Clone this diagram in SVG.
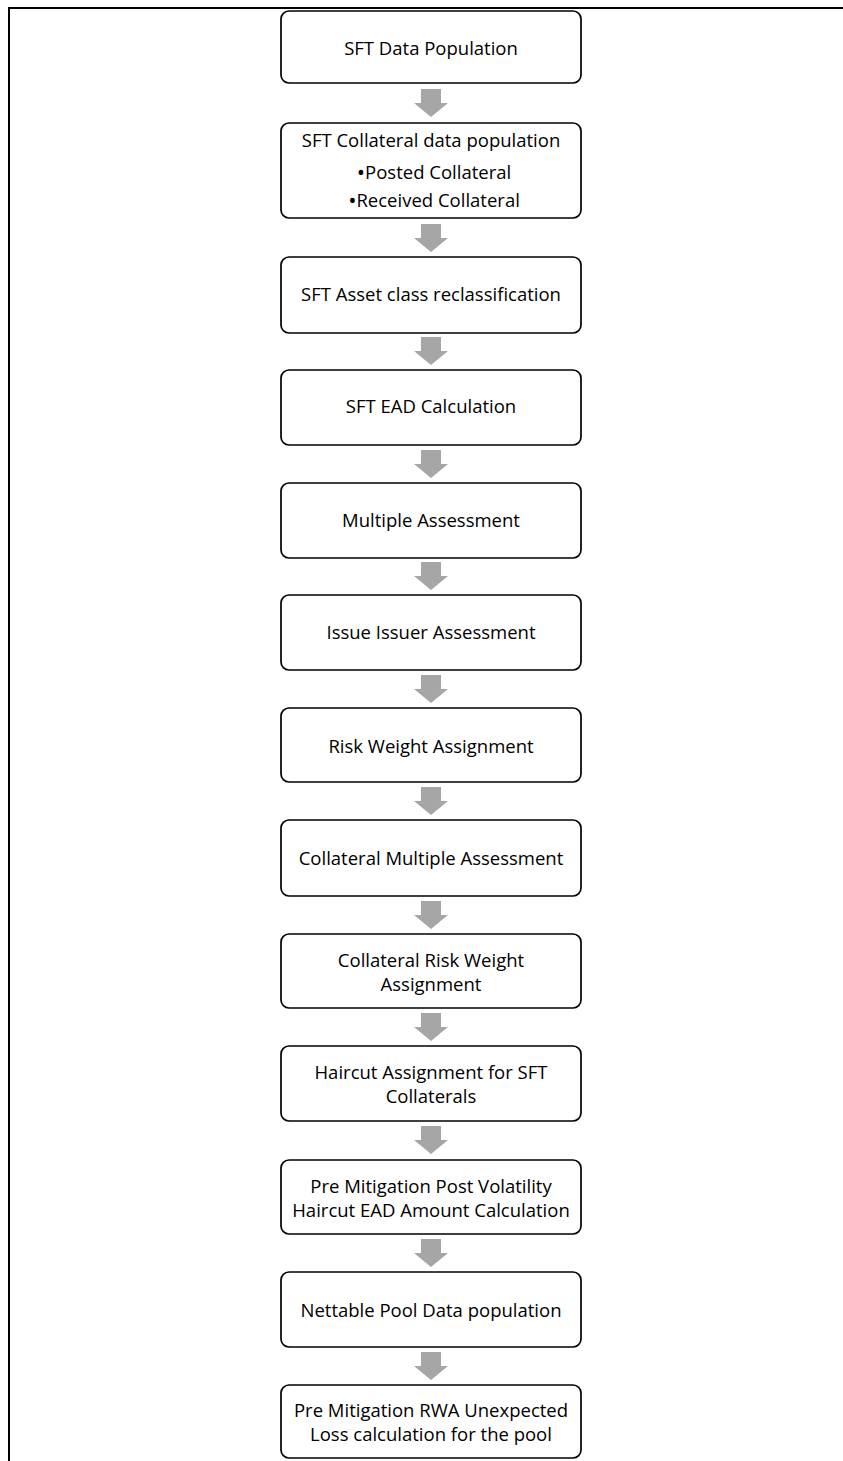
<svg xmlns="http://www.w3.org/2000/svg" width="843" height="1461" viewBox="0 0 843 1461">
  <style>
    .box { fill: #ffffff; stroke: #000000; stroke-width: 1.7; }
    .lbl { font-family: "Open Sans", Lato, "Liberation Sans", sans-serif; font-size: 18.5px; fill: #000000; text-anchor: middle; dominant-baseline: central; }
    .bul { font-size: 22px; }
    .arr { fill: #a6a6a6; }
    .frame { fill: none; stroke: #000000; stroke-width: 2; }
  </style>
  <defs>
    <!-- block arrow pointing down, origin at top centre of shaft -->
    <path id="down" class="arr" d="M -10 0 H 10 V 14 H 17 L 0 28 L -17 14 H -10 Z"/>
  </defs>
  <rect width="843" height="1461" fill="#ffffff"/>
  <path class="frame" d="M 9 1461 V 8 H 843"/>

  <g id="connectors">
    <use href="#down" x="431" y="89"/>
    <use href="#down" x="431" y="224"/>
    <use href="#down" x="431" y="337"/>
    <use href="#down" x="431" y="450"/>
    <use href="#down" x="431" y="562"/>
    <use href="#down" x="431" y="675"/>
    <use href="#down" x="431" y="787"/>
    <use href="#down" x="431" y="901"/>
    <use href="#down" x="431" y="1013"/>
    <use href="#down" x="431" y="1126"/>
    <use href="#down" x="431" y="1239"/>
    <use href="#down" x="431" y="1352"/>
  </g>

  <g id="n1"><rect class="box" x="281" y="11" width="300" height="72" rx="8"/>
    <text class="lbl" x="431" y="47">SFT Data Population</text></g>
  <g id="n2"><rect class="box" x="281" y="123" width="300" height="95" rx="8"/>
    <text class="lbl" x="431" y="139">SFT Collateral data population</text>
    <text class="lbl" x="434" y="171"><tspan class="bul">•</tspan>Posted Collateral</text>
    <text class="lbl" x="434" y="199"><tspan class="bul">•</tspan>Received Collateral</text></g>
  <g id="n3"><rect class="box" x="281" y="257" width="300" height="76" rx="8"/>
    <text class="lbl" x="431" y="293">SFT Asset class reclassification</text></g>
  <g id="n4"><rect class="box" x="281" y="370" width="300" height="75" rx="8"/>
    <text class="lbl" x="431" y="405">SFT EAD Calculation</text></g>
  <g id="n5"><rect class="box" x="281" y="483" width="300" height="75" rx="8"/>
    <text class="lbl" x="431" y="519">Multiple Assessment</text></g>
  <g id="n6"><rect class="box" x="281" y="595" width="300" height="75" rx="8"/>
    <text class="lbl" x="431" y="631">Issue Issuer Assessment</text></g>
  <g id="n7"><rect class="box" x="281" y="708" width="300" height="74" rx="8"/>
    <text class="lbl" x="431" y="745">Risk Weight Assignment</text></g>
  <g id="n8"><rect class="box" x="281" y="820" width="300" height="76" rx="8"/>
    <text class="lbl" x="431" y="857">Collateral Multiple Assessment</text></g>
  <g id="n9"><rect class="box" x="281" y="934" width="300" height="74" rx="8"/>
    <text class="lbl" x="431" y="959">Collateral Risk Weight</text>
    <text class="lbl" x="431" y="983">Assignment</text></g>
  <g id="n10"><rect class="box" x="281" y="1046" width="300" height="75" rx="8"/>
    <text class="lbl" x="431" y="1071">Haircut Assignment for SFT</text>
    <text class="lbl" x="431" y="1095">Collaterals</text></g>
  <g id="n11"><rect class="box" x="281" y="1160" width="300" height="74" rx="8"/>
    <text class="lbl" x="431" y="1185">Pre Mitigation Post Volatility</text>
    <text class="lbl" x="431" y="1209">Haircut EAD Amount Calculation</text></g>
  <g id="n12"><rect class="box" x="281" y="1272" width="300" height="75" rx="8"/>
    <text class="lbl" x="431" y="1309">Nettable Pool Data population</text></g>
  <g id="n13"><rect class="box" x="281" y="1385" width="300" height="73" rx="8"/>
    <text class="lbl" x="431" y="1409">Pre Mitigation RWA Unexpected</text>
    <text class="lbl" x="431" y="1433">Loss calculation for the pool</text></g>
</svg>
